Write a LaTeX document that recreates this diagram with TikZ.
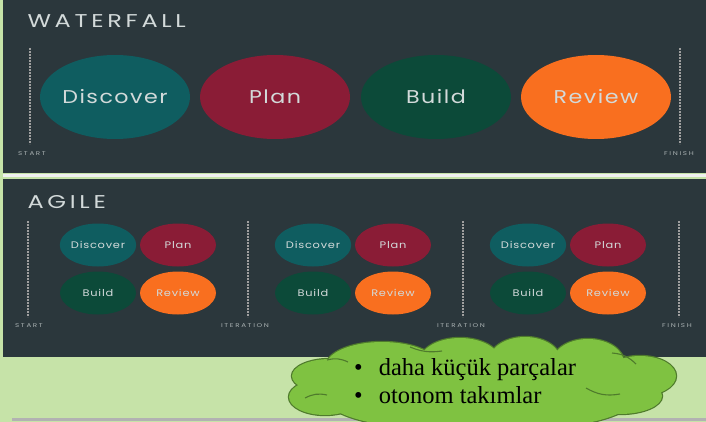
\documentclass[tikz,border=0pt]{standalone}
\usepackage{fontspec}
\setmainfont{Poppins}
\newfontfamily\headfont[FakeStretch=1.3,LetterSpace=20]{Poppins}
\newfontfamily\phasefont[FakeStretch=1.2,LetterSpace=8]{Poppins}
\newfontfamily\tagfont[FakeStretch=1.3,LetterSpace=30]{Poppins}
\newfontfamily\notefont{Liberation Serif}
\usetikzlibrary{shapes.geometric}
\definecolor{slide}{HTML}{C6E3A8}
\definecolor{panel}{HTML}{2B373C}
\definecolor{phasetext}{HTML}{D3DADA}
\definecolor{discover}{HTML}{0F5D60}
\definecolor{plan}{HTML}{8A1C36}
\definecolor{build}{HTML}{0C4A39}
\definecolor{review}{HTML}{F96F1F}
\definecolor{cloudfill}{HTML}{7FC241}
\definecolor{cloudedge}{HTML}{4F7B2C}
\tikzset{
  phase/.style={ellipse,inner sep=0pt,text=phasetext},
  bigphase/.style={phase,minimum width=150,minimum height=84,font=\phasefont\fontsize{18.5}{18.5}\selectfont},
  smallphase/.style={phase,minimum width=76,minimum height=43,font=\phasefont\fontsize{9.5}{9.5}\selectfont},
  marker/.style={line width=2.5,dash pattern=on 2 off 1,draw=gray!75},
  tag/.style={text=phasetext!75!panel,font=\tagfont\fontsize{5.5}{5.5}\selectfont},
  heading/.style={anchor=west,text=phasetext,font=\headfont\fontsize{18.5}{18.5}\selectfont},
  noteline/.style={anchor=base west,inner sep=0pt,font=\notefont\fontsize{24.5}{28}\selectfont},
  puffline/.style={fill=cloudfill,draw=cloudedge,line width=2.4},
  puffbody/.style={fill=cloudfill},
  crease/.style={draw=cloudedge,line width=1.1}
}
\begin{document}
\begin{tikzpicture}[x=1pt,y=-1pt]
  \fill[slide] (0,0) rectangle (706,422);
  \useasboundingbox (0,0) rectangle (706,422);
  \fill[panel] (3,0) rectangle (706,173);
  \fill[white!88!gray] (3,174) rectangle (706,177.5);
  \fill[panel] (3,179) rectangle (706,357);
  \draw[gray!60,line width=3] (12,419) -- (706,419);

  \node[heading] (waterfall) at (24,21) {WATERFALL};
  \node[bigphase,fill=discover] (wdisc) at (115,97) {Discover};
  \node[bigphase,fill=plan] (wplan) at (275,97) {Plan};
  \node[bigphase,fill=build] (wbuild) at (436,97) {Build};
  \node[bigphase,fill=review] (wrev) at (596,97) {Review};
  \draw[marker] (30,48) -- (30,144);
  \draw[marker] (680,48) -- (680,144);
  \node[tag] (wstart) at (32,154) {START};
  \node[tag] (wfinish) at (679,154) {FINISH};

  \node[heading] (agile) at (24,202) {AGILE};
  \foreach \dx/\i in {0/1,215/2,430/3} {
    \node[smallphase,fill=discover] (disc\i) at (98+\dx,245) {Discover};
    \node[smallphase,fill=plan] (plan\i) at (178+\dx,245) {Plan};
    \node[smallphase,fill=build] (build\i) at (98+\dx,293) {Build};
    \node[smallphase,fill=review] (rev\i) at (178+\dx,293) {Review};
  }
  \foreach \x in {28,248,463,679} \draw[marker] (\x,221) -- (\x,317);
  \node[tag] (astart) at (29,326) {START};
  \node[tag] (iter1) at (245,326) {ITERATION};
  \node[tag] (iter2) at (461,326) {ITERATION};
  \node[tag] (afinish) at (677,326) {FINISH};

  % cloud: outline all puffs first, then fill them over the inner strokes
  \foreach \pass in {puffline,puffbody}
    \foreach \cx/\cy/\rx/\ry in {325/397/36/18,330/376/38/17,382/366/56/24,460/361/40/23,
        525/361/36/24,588/363/36/24,640/376/36/20,620/396/42/18,480/402/150/30,485/385/170/30}
      \path[\pass] (\cx,\cy) ellipse [x radius=\rx,y radius=\ry];
  \draw[crease] (327,360) to[bend left=20] (348,362);
  \draw[crease] (410,347) to[bend right=15] (442,351);
  \draw[crease] (612,353) to[bend left=20] (636,364);
  \draw[crease] (586,388) to[bend right=20] (620,394);
  \draw[crease] (305,398) to[bend left=20] (327,395);
  \node[noteline] (line1) at (354,375) {\textbullet\hspace{16pt}daha küçük parçalar};
  \node[noteline] (line2) at (354,403) {\textbullet\hspace{16pt}otonom takımlar};
\end{tikzpicture}
\end{document}
